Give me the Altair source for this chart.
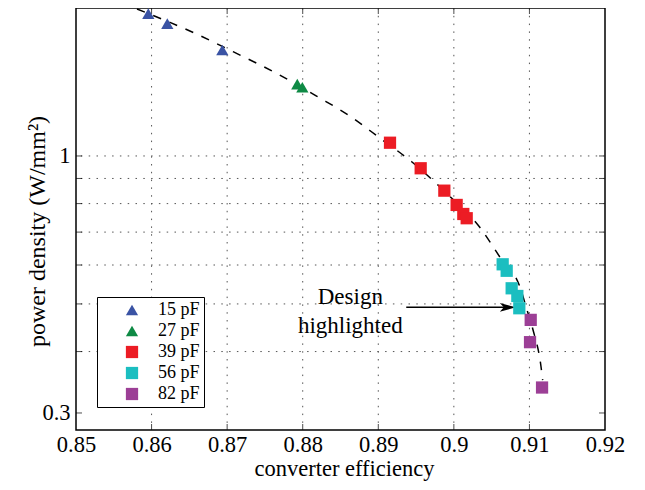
import altair as alt
import pandas as pd

# ---------------- data ----------------
caps = ["15 pF", "27 pF", "39 pF", "56 pF", "82 pF"]
cap_colors = ["#3A53A4", "#0E8A45", "#EC1C24", "#1BBEC0", "#9C3F96"]
cap_shapes = ["triangle-up", "triangle-up", "square", "square", "square"]
cap_sizes = [150, 150, 100, 100, 100]

eff_15 = [0.85957, 0.86208, 0.86936]
pd_15 = [1.948, 1.859, 1.643]
eff_27 = [0.87928, 0.87995]
pd_27 = [1.400, 1.380]
eff_39 = [0.89155, 0.89561, 0.89874, 0.90037, 0.90125, 0.90170]
pd_39 = [1.064, 0.944, 0.850, 0.795, 0.762, 0.747]
eff_56 = [0.90646, 0.90699, 0.90765, 0.90840, 0.90866]
pd_56 = [0.602, 0.584, 0.538, 0.519, 0.490]
eff_82 = [0.91017, 0.91008, 0.91167]
pd_82 = [0.464, 0.418, 0.338]

curve_eff = [0.85807, 0.86561, 0.87078, 0.87660, 0.88189, 0.88626, 0.89023,
             0.89446, 0.89909, 0.90346, 0.90611, 0.90875, 0.90968, 0.91047,
             0.91153, 0.91175]
curve_pd = [1.991, 1.780, 1.630, 1.471, 1.322, 1.205, 1.087,
            0.972, 0.838, 0.715, 0.622, 0.541, 0.486, 0.443,
            0.373, 0.350]

x_tick_values = [0.85, 0.86, 0.87, 0.88, 0.89, 0.90, 0.91, 0.92]
x_inner_ticks = [0.86, 0.87, 0.88, 0.89, 0.90, 0.91]
y_label_values = [0.3, 1]
y_minor_ticks = [0.3, 0.4, 0.5, 0.6, 0.7, 0.8, 0.9, 1.0]
x_grid = [0.86, 0.87, 0.88, 0.89, 0.90, 0.91]
y_grid = [0.4, 0.5, 0.6, 0.7, 0.8, 0.9, 1.0]

note_lines = ["Design", "highlighted"]
note_eff = [0.8863, 0.8863]
note_pd = [0.5166, 0.4513]
arrow_start_eff = 0.8937
arrow_tip_eff = 0.9082
arrow_pd = 0.4922

# ---------------- frames ----------------
rows = []
for cap, xs, ys in zip(caps, [eff_15, eff_27, eff_39, eff_56, eff_82],
                       [pd_15, pd_27, pd_39, pd_56, pd_82]):
    for a, b in zip(xs, ys):
        rows.append({"eff": a, "pd": b, "cap": cap})
pts = pd.DataFrame(rows)
curve = pd.DataFrame({"eff": curve_eff, "pd": curve_pd})
notes = pd.DataFrame({"eff": note_eff, "pd": note_pd, "t": note_lines})
arrow = pd.DataFrame({"eff": [arrow_start_eff], "eff2": [arrow_tip_eff - 0.0012], "pd": [arrow_pd]})
tip = pd.DataFrame({"eff": [arrow_tip_eff], "pd": [arrow_pd]})
xg = pd.DataFrame({"eff": x_grid})
yg = pd.DataFrame({"pd": y_grid})
xt = pd.DataFrame({"eff": x_inner_ticks})
yt = pd.DataFrame({"pd": y_minor_ticks})

W, H = 529, 422
FONT = "Liberation Serif"

xscale = alt.Scale(domain=[0.85, 0.92], zero=False, nice=False)
yscale = alt.Scale(type="log", domain=[0.277, 2.0], nice=False)

xaxis = alt.Axis(values=x_tick_values, format=".2~f", labelFont=FONT, labelFontSize=22.5,
                 labelColor="black", tickSize=0, domain=False, grid=False, labelPadding=3,
                 labelFlush=False, labelOverlap=False,
                 title="converter efficiency", titleFont=FONT, titleFontSize=22.5,
                 titleFontWeight="normal", titleColor="black", titleX=268, titleY=45,
                 titleBaseline="alphabetic", titleAlign="center")
yaxis = alt.Axis(values=y_label_values, format="~g", labelFont=FONT, labelFontSize=22.5,
                 labelColor="black", tickSize=0, domain=False, grid=False, labelPadding=6,
                 labelFlush=False, labelOverlap=False,
                 title="power density (W/mm²)", titleFont=FONT, titleFontSize=24,
                 titleFontWeight="normal", titleColor="black", titleAngle=270,
                 titleX=-39, titleY=223, titleAlign="center", titleBaseline="middle")


def X(field="eff"):
    return alt.X(f"{field}:Q", scale=xscale, axis=xaxis)


def Y(field="pd"):
    return alt.Y(f"{field}:Q", scale=yscale, axis=yaxis)


grid_style = dict(color="#555555", strokeWidth=1, strokeDash=[1.5, 6.3])
vgrid = alt.Chart(xg).mark_rule(**grid_style).encode(x=X())
hgrid = alt.Chart(yg).mark_rule(**grid_style).encode(y=Y())

line = alt.Chart(curve).mark_line(color="black", strokeWidth=1.5, strokeDash=[8.5, 9],
                                  interpolate="monotone", clip=True).encode(x=X(), y=Y())

legend = alt.Legend(title=None, orient="none", legendX=21, legendY=289,
                    strokeColor="black", fillColor="white", padding=4,
                    labelFont=FONT, labelFontSize=18, labelColor="black",
                    symbolOffset=22, labelOffset=17, rowPadding=3,
                    symbolStrokeWidth=0)

points = alt.Chart(pts).mark_point(filled=True, opacity=1, strokeWidth=0).encode(
    x=X(), y=Y(),
    color=alt.Color("cap:N", scale=alt.Scale(domain=caps, range=cap_colors), legend=legend),
    shape=alt.Shape("cap:N", scale=alt.Scale(domain=caps, range=cap_shapes), legend=legend),
    size=alt.Size("cap:N", scale=alt.Scale(domain=caps, range=cap_sizes), legend=legend),
)

shaft = alt.Chart(arrow).mark_rule(color="black", strokeWidth=1.6).encode(
    x=X(), x2="eff2:Q", y=Y())
head = alt.Chart(tip).mark_point(shape="M0,0L-2,-0.55L-1.5,0L-2,0.55Z", size=256,
                                 filled=True, color="black", opacity=1, strokeWidth=0).encode(
    x=X(), y=Y())

texts = alt.Chart(notes).mark_text(font=FONT, fontSize=23, color="black",
                                   align="center", baseline="middle").encode(
    x=X(), y=Y(), text="t:N")

tick_style = dict(color="black", thickness=1, size=6)
xt_bottom = alt.Chart(xt).mark_tick(orient="vertical", **tick_style).encode(
    x=X(), y=alt.value(H - 3))
xt_top = alt.Chart(xt).mark_tick(orient="vertical", **tick_style).encode(
    x=X(), y=alt.value(3))
yt_left = alt.Chart(yt).mark_tick(orient="horizontal", **tick_style).encode(
    y=Y(), x=alt.value(3))
yt_right = alt.Chart(yt).mark_tick(orient="horizontal", **tick_style).encode(
    y=Y(), x=alt.value(W - 3))

chart = alt.layer(
    vgrid, hgrid, xt_bottom, xt_top, yt_left, yt_right, line, shaft, head, texts, points
).properties(
    width=W, height=H,
    autosize=alt.AutoSizeParams(type="none"),
    padding={"left": 68, "top": 0, "right": 26, "bottom": 52},
    background="white",
).configure_view(stroke="black", strokeWidth=1.5)

chart.save("out.html", embed_options={"renderer": "svg", "actions": False})
